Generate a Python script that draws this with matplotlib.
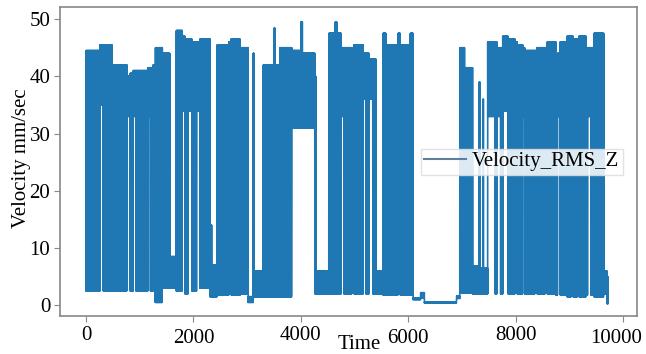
import numpy as np
import matplotlib
matplotlib.use("Agg")
import matplotlib.pyplot as plt
from matplotlib.transforms import ScaledTranslation

plt.rcParams["font.family"] = ["Liberation Serif", "DejaVu Serif"]

# Velocity_RMS_Z trace, read off the picture as an envelope:
# each segment runs up to seg_end and swings between seg_low and seg_high
seg_end = [260, 320, 480, 760, 820, 880, 930, 1150, 1200, 1250,
           1290, 1420, 1560, 1680, 1790, 1840, 1900, 1970, 2060, 2120,
           2310, 2325, 2340, 2440, 2660, 2700, 2870, 3020, 3110, 3130,
           3300, 3500, 3520, 3610, 3830, 4000, 4030, 4260, 4280, 4520,
           4640, 4670, 4750, 4800, 4950, 4990, 5160, 5210, 5270, 5340,
           5400, 5530, 5580, 5810, 5850, 6040, 6090, 6230, 6300, 6900,
           6960, 7050, 7200, 7320, 7335, 7390, 7400, 7480, 7620, 7650,
           7720, 7760, 7860, 7990, 8030, 8130, 8170, 8360, 8400, 8550,
           8590, 8750, 8780, 8830, 8960, 9040, 9070, 9150, 9180, 9310,
           9340, 9400, 9460, 9640, 9700, 9720]
seg_low = [2.5, 35, 2.5, 2.5, 33, 2.5, 33, 2.5, 33, 2.5,
           32, 0.5, 3, 3, 2.5, 34, 2, 34, 2.5, 34,
           3, 1.5, 1.5, 1.5, 1.8, 32, 1.8, 2, 0.5, 1.5,
           1.5, 1.5, 1.5, 1.5, 1.5, 31, 31, 31, 2, 2,
           2, 2, 2, 33, 2, 36, 2, 36, 2, 36,
           2, 2, 1.8, 1.8, 33, 1.8, 1.8, 1.0, 1.3, 0.4,
           1.2, 2.2, 2.2, 2, 2, 2, 2, 2, 33, 2,
           33, 2, 34, 2, 34, 2, 33, 2, 33, 2,
           33, 2, 1.8, 33, 1.8, 1.5, 33, 1.5, 33, 1.5,
           1.8, 33, 1.8, 1.5, 2, 0.3]
seg_high = [44.5, 45.5, 45.5, 42, 40, 40.5, 41, 41, 41.5, 41.5,
            42, 45, 44, 8.5, 48, 47, 46.5, 46.5, 46, 46,
            46.5, 7, 14, 7, 45.5, 46, 46.5, 45, 1.5, 44,
            6, 42, 48.4, 42, 45, 44.5, 49.5, 44, 40, 6,
            47.5, 49.5, 47.5, 45, 45, 44, 45.5, 44, 44, 43,
            43, 6, 47.5, 45.5, 47.5, 45.5, 47.5, 1.3, 2.2, 0.6,
            1.6, 45, 41.5, 6.8, 39, 6.5, 36, 6.5, 46, 46,
            45, 45, 47, 46.5, 46, 45.5, 45, 44.5, 44.5, 45,
            45, 46, 43, 44, 46, 47, 47, 46.5, 46, 47,
            45, 45, 45, 47.5, 6, 5]

x_ticks = [0, 2000, 4000, 6000, 8000, 10000]
y_ticks = [0, 10, 20, 30, 40, 50]

# one sample per time step, alternating between the segment's low and high
time = []
vel = []
start = 0
for end, lo, hi in zip(seg_end, seg_low, seg_high):
    for t in range(start, end):
        time.append(t)
        vel.append(hi if t % 2 else lo)
    start = end
time.append(start)
vel.append(seg_low[-1])

fig = plt.figure(figsize=(6.46, 3.54), dpi=100)
ax = fig.add_axes([0.093, 0.107, 0.893, 0.873])

ax.plot(time, vel, color="#1f77b4", lw=1.2, label="Velocity_RMS_Z")

ax.set_xlim(-484, 10260)
ax.set_ylim(-1.9, 52.1)
ax.set_xticks(x_ticks)
ax.set_yticks(y_ticks)
ax.tick_params(labelsize=15, length=4, color="#888888", pad=3)
xlabels = ax.get_xticklabels()
for i, lab in enumerate(xlabels):
    if i % 2:
        lab.set_y(-0.01)
# last label sits a little left of its tick, inside the figure
xlabels[-1].set_transform(xlabels[-1].get_transform()
                          + ScaledTranslation(-7 / 100, 0, fig.dpi_scale_trans))

for sp in ax.spines.values():
    sp.set_color("#888888")
    sp.set_linewidth(1.2)

ax.set_xlabel("Time", fontsize=15)
ax.xaxis.set_label_coords(0.518, -0.062)
ax.set_ylabel("Velocity mm/sec", fontsize=15)
ax.yaxis.set_label_coords(-0.05, 0.51)

leg = ax.legend(loc="center right", bbox_to_anchor=(0.975, 0.5), fontsize=15,
                borderaxespad=0, borderpad=0.15, handlelength=2.0,
                handletextpad=0.3, fancybox=False, edgecolor="#dddddd",
                framealpha=0.85)
leg.get_lines()[0].set_color("#5f7f9c")
leg.get_lines()[0].set_linewidth(1.5)

fig.savefig("out.png", dpi=100)
